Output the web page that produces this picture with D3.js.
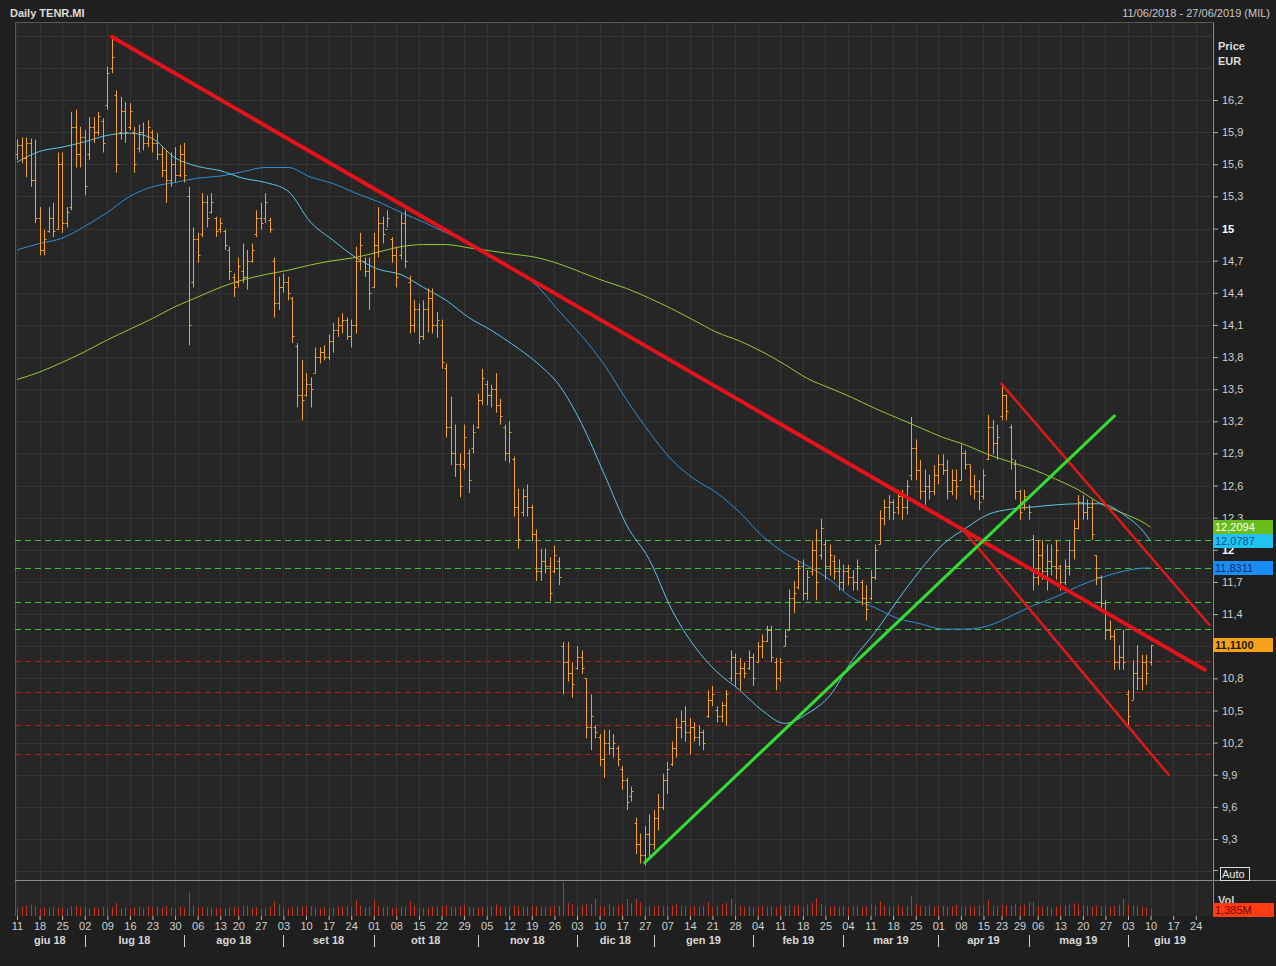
<!DOCTYPE html>
<html><head><meta charset="utf-8">
<script src="https://cdn.jsdelivr.net/npm/d3@7"></script>
<style>
html,body{margin:0;padding:0;background:#1f1f1f;}
svg{display:block;font-family:"Liberation Sans",Arial,sans-serif;}
</style></head>
<body><svg id="c" width="1276" height="966"></svg>
<script>
// ---------------- DATA ----------------
const title = "Daily TENR.MI";
const rangeText = "11/06/2018 - 27/06/2019 (MIL)";
const startDate = "2018-06-11", endDate = "2019-06-27";
const holidays = ["2018-08-15","2018-12-24","2018-12-25","2018-12-26","2018-12-31","2019-01-01","2019-04-19","2019-04-22","2019-05-01"];
const monthNames = ["gen","feb","mar","apr","mag","giu","lug","ago","set","ott","nov","dic"];
const weekTicks = ["2018-06-11","2018-06-18","2018-06-25","2018-07-02","2018-07-09","2018-07-16","2018-07-23","2018-07-30",
 "2018-08-06","2018-08-13","2018-08-20","2018-08-27","2018-09-03","2018-09-10","2018-09-17","2018-09-24","2018-10-01",
 "2018-10-08","2018-10-15","2018-10-22","2018-10-29","2018-11-05","2018-11-12","2018-11-19","2018-11-26","2018-12-03",
 "2018-12-10","2018-12-17","2018-12-27","2019-01-07","2019-01-14","2019-01-21","2019-01-28","2019-02-04","2019-02-11",
 "2019-02-18","2019-02-25","2019-03-04","2019-03-11","2019-03-18","2019-03-25","2019-04-01","2019-04-08","2019-04-15",
 "2019-04-23","2019-04-29","2019-05-06","2019-05-13","2019-05-20","2019-05-27","2019-06-03","2019-06-10","2019-06-17","2019-06-24"];
const priceTicks = [16.2,15.9,15.6,15.3,15,14.7,14.4,14.1,13.8,13.5,13.2,12.9,12.6,12.3,12,11.7,11.4,11.1,10.8,10.5,10.2,9.9,9.6,9.3];
const hiddenTickLabels = [11.1];

const high = [
15.83,15.85,15.85,15.84,15.83,15.20,14.99,15.20,15.24,15.71,
15.71,15.20,16.09,16.11,15.95,15.92,16.04,16.04,16.09,16.03,
16.51,16.79,16.29,16.23,16.18,16.17,15.95,15.97,15.99,16.01,
15.92,15.89,15.76,15.73,15.71,15.76,15.78,15.80,15.39,15.01,
14.96,15.33,15.31,15.33,15.11,15.10,14.99,14.83,14.58,14.73,
14.86,14.80,14.86,15.17,15.24,15.33,15.10,14.73,14.55,14.58,
14.55,14.36,13.93,13.77,13.65,13.61,13.89,13.89,13.91,14.01,
14.12,14.17,14.21,14.17,14.15,14.83,14.96,14.73,14.73,14.96,
15.20,15.11,15.17,14.92,14.83,15.14,15.17,14.56,14.33,14.30,
14.33,14.44,14.44,14.22,14.15,13.74,13.43,13.17,12.90,13.17,
12.94,13.17,13.46,13.69,13.58,13.54,13.65,13.41,13.17,13.20,
12.87,12.57,12.57,12.61,12.42,12.19,12.01,12.01,11.93,12.04,
11.93,11.14,11.14,10.95,11.10,11.06,10.80,10.65,10.36,10.28,
10.32,10.32,10.28,10.17,9.98,9.87,9.79,9.50,9.35,9.42,
9.53,9.57,9.72,9.91,10.02,10.21,10.43,10.50,10.54,10.43,
10.39,10.36,10.32,10.69,10.73,10.54,10.58,10.69,11.06,11.03,
10.99,10.95,11.06,11.03,11.14,11.21,11.29,11.29,10.99,10.99,
11.25,11.63,11.71,11.90,11.91,11.81,12.09,12.19,12.29,12.09,
12.05,11.95,11.91,11.86,11.86,11.81,11.91,11.72,11.67,11.81,
12.05,12.37,12.47,12.51,12.47,12.56,12.56,12.65,13.24,13.03,
12.84,12.75,12.70,12.79,12.89,12.89,12.84,12.75,12.75,12.98,
12.93,12.79,12.70,12.65,12.75,13.26,13.21,13.17,13.55,13.45,
13.17,12.84,12.56,12.56,12.42,12.14,12.09,12.09,12.05,12.05,
12.09,11.86,11.91,12.09,12.28,12.51,12.51,12.47,12.47,11.95,
11.76,11.53,11.34,11.25,11.11,11.25,10.69,10.97,11.11,11.02,
11.02,11.11];
const low = [
15.64,15.61,15.48,15.39,15.05,14.75,14.75,14.96,14.92,14.99,
14.96,15.01,15.17,15.57,15.57,15.31,15.64,15.80,15.87,15.71,
16.11,16.45,15.52,15.83,15.80,15.92,15.52,15.71,15.73,15.76,
15.71,15.64,15.48,15.24,15.39,15.43,15.48,15.43,13.91,14.45,
14.68,14.92,15.01,15.14,14.92,14.96,14.80,14.52,14.36,14.45,
14.49,14.43,14.68,14.92,14.99,15.05,14.96,14.17,14.24,14.40,
14.33,13.93,13.33,13.21,13.43,13.33,13.65,13.74,13.77,13.77,
13.84,13.99,14.02,13.96,13.89,14.02,14.61,14.55,14.24,14.45,
14.73,14.86,15.01,14.68,14.45,14.71,14.63,14.02,14.03,13.92,
13.96,14.03,14.02,13.98,13.69,13.05,12.79,12.68,12.49,12.75,
12.53,12.90,13.13,13.35,13.35,13.33,13.28,13.17,12.83,12.81,
12.31,12.01,12.31,12.31,12.08,11.71,11.71,11.78,11.52,11.78,
11.67,10.65,10.77,10.62,10.88,10.84,10.24,10.13,10.24,9.98,
9.87,10.09,10.06,9.98,9.76,9.57,9.65,9.16,9.07,9.05,
9.12,9.20,9.38,9.57,9.72,9.98,10.06,10.24,10.21,10.09,
10.21,10.17,10.13,10.43,10.54,10.39,10.39,10.36,10.77,10.73,
10.69,10.80,10.88,10.73,10.95,10.99,11.14,10.95,10.69,10.77,
11.10,11.25,11.41,11.63,11.53,11.53,11.76,11.53,11.91,11.72,
11.76,11.72,11.62,11.62,11.67,11.62,11.62,11.48,11.34,11.53,
11.72,12.05,12.23,12.28,12.28,12.33,12.28,12.33,12.65,12.65,
12.47,12.42,12.47,12.51,12.61,12.70,12.47,12.51,12.47,12.65,
12.75,12.51,12.47,12.37,12.47,12.84,12.89,12.84,13.21,13.21,
12.75,12.47,12.28,12.37,12.28,11.62,11.67,11.72,11.62,11.76,
11.72,11.62,11.67,11.76,11.91,12.19,12.28,12.28,12.09,11.67,
11.44,11.16,11.16,10.88,10.88,10.88,10.36,10.60,10.69,10.69,
10.74,10.92];
const open = [
15.70,15.78,15.66,15.80,15.45,15.10,14.80,14.98,15.10,15.00,
15.60,15.05,15.20,15.95,15.70,15.85,15.70,15.95,15.90,16.00,
16.15,16.50,16.25,15.90,16.10,15.95,15.90,15.75,15.90,15.80,
15.90,15.80,15.70,15.55,15.45,15.60,15.50,15.70,15.30,14.50,
14.90,14.95,15.25,15.15,15.10,15.00,14.98,14.80,14.55,14.50,
14.60,14.55,14.70,14.95,15.10,15.10,15.08,14.70,14.30,14.45,
14.50,14.35,13.90,13.45,13.45,13.55,13.65,13.80,13.85,13.80,
13.95,14.05,14.10,14.15,14.00,14.10,14.70,14.70,14.60,14.45,
14.85,15.05,15.00,14.90,14.75,14.75,15.05,14.50,14.10,14.25,
14.00,14.25,14.35,14.10,14.10,13.70,13.15,12.90,12.80,12.80,
12.90,12.95,13.15,13.40,13.55,13.45,13.50,13.35,13.15,12.90,
12.85,12.40,12.35,12.50,12.40,12.15,11.80,11.90,11.85,11.80,
11.90,11.10,10.95,10.85,10.90,11.00,10.80,10.35,10.35,10.25,
10.05,10.20,10.15,10.15,9.95,9.85,9.70,9.45,9.25,9.15,
9.35,9.25,9.50,9.60,9.85,10.00,10.15,10.35,10.40,10.30,
10.35,10.25,10.30,10.45,10.60,10.50,10.45,10.55,10.80,11.00,
10.85,10.90,10.90,11.00,10.95,11.10,11.15,11.25,10.95,10.80,
11.10,11.25,11.55,11.65,11.85,11.60,11.80,12.00,11.95,12.05,
11.85,11.90,11.80,11.70,11.80,11.75,11.70,11.70,11.55,11.55,
11.75,12.05,12.30,12.40,12.45,12.40,12.50,12.40,12.70,12.95,
12.75,12.55,12.60,12.55,12.70,12.80,12.75,12.55,12.65,12.65,
12.90,12.80,12.60,12.55,12.50,12.85,13.15,13.00,13.25,13.45,
13.15,12.80,12.55,12.40,12.40,12.10,11.75,11.95,11.80,11.90,
11.85,11.85,11.70,11.85,12.00,12.20,12.45,12.35,12.40,11.95,
11.75,11.50,11.25,11.20,10.95,11.00,10.65,10.60,10.85,10.80,
10.95,10.95];
const close = [
15.78,15.66,15.80,15.45,15.10,14.80,14.90,15.10,14.98,15.60,
15.05,15.15,15.95,15.70,15.85,15.40,15.95,15.90,16.05,15.80,
16.45,16.60,15.60,16.10,15.90,16.10,15.60,15.90,15.80,15.95,
15.80,15.70,15.55,15.45,15.60,15.50,15.70,15.50,14.10,14.90,
14.75,15.25,15.10,15.25,14.98,15.05,14.85,14.60,14.45,14.65,
14.55,14.70,14.80,15.10,15.05,15.25,15.00,14.30,14.45,14.50,
14.40,14.00,13.45,13.40,13.55,13.50,13.80,13.85,13.80,13.95,
14.05,14.10,14.15,14.00,14.10,14.70,14.85,14.60,14.40,14.85,
15.05,14.95,15.10,14.75,14.55,15.05,14.70,14.10,14.25,14.00,
14.25,14.35,14.10,14.15,13.75,13.15,12.90,12.80,12.60,13.05,
12.65,13.10,13.40,13.60,13.45,13.50,13.35,13.25,12.90,13.10,
12.40,12.10,12.50,12.40,12.15,11.80,11.90,11.85,11.60,11.95,
11.75,10.95,10.85,10.75,11.00,10.90,10.35,10.45,10.30,10.05,
10.20,10.15,10.20,10.05,9.85,9.65,9.75,9.25,9.15,9.35,
9.25,9.50,9.60,9.85,9.95,10.15,10.35,10.40,10.30,10.35,
10.25,10.30,10.20,10.60,10.65,10.45,10.55,10.65,11.00,10.85,
10.90,10.85,11.00,10.80,11.10,11.15,11.25,11.00,10.80,10.95,
11.20,11.55,11.60,11.85,11.60,11.75,12.00,11.70,12.20,11.85,
11.95,11.80,11.70,11.80,11.75,11.70,11.85,11.55,11.45,11.75,
12.00,12.30,12.40,12.45,12.35,12.50,12.40,12.60,12.95,12.75,
12.55,12.60,12.55,12.70,12.80,12.75,12.55,12.65,12.60,12.90,
12.80,12.60,12.55,12.45,12.70,13.15,13.00,13.05,13.45,13.30,
12.85,12.55,12.35,12.50,12.35,11.75,11.95,11.80,11.90,11.85,
12.00,11.70,11.85,12.00,12.20,12.45,12.35,12.40,12.15,11.75,
11.50,11.25,11.20,10.95,11.00,10.95,10.45,10.85,10.80,10.95,
10.85,11.11];
// volume in millions of shares
const volume = [
1.6,1.8,2.0,2.2,1.9,1.5,1.7,1.6,1.8,1.6,
1.7,1.5,1.9,2.0,1.6,1.8,1.5,1.7,1.6,1.8,
1.6,1.7,2.5,1.4,1.6,1.5,1.7,1.8,1.6,1.9,
1.7,1.8,1.6,1.9,1.7,1.5,1.8,1.6,4.6,2.1,
1.7,1.8,1.6,1.7,1.5,1.6,1.4,1.7,1.8,1.6,
1.9,2.0,1.6,1.7,1.5,1.6,1.8,2.9,2.2,1.6,
1.5,1.8,1.9,1.8,2.0,1.9,1.7,1.5,1.8,1.6,
1.7,1.9,1.8,1.9,1.7,3.1,2.0,1.7,1.8,3.1,
2.0,1.7,1.8,1.6,1.7,1.8,1.9,2.9,2.1,1.7,
1.6,1.7,1.8,1.7,1.9,2.0,1.8,1.7,1.9,2.2,
1.8,1.7,1.6,1.7,1.8,1.9,2.2,1.8,1.7,1.9,
2.0,1.9,1.7,1.8,2.0,1.9,1.8,1.7,1.8,1.9,
2.0,6.6,2.5,2.2,1.8,2.1,2.3,2.4,3.3,1.9,
1.8,2.3,1.9,2.1,2.4,3.3,2.5,3.3,2.6,1.9,
2.0,1.8,2.0,1.9,2.0,2.1,2.3,2.0,1.9,1.8,
1.9,1.8,2.0,2.7,1.7,1.9,2.2,2.5,3.3,2.3,
2.0,1.8,1.9,1.7,1.8,2.0,1.8,1.9,1.7,2.1,
1.9,2.2,2.0,2.1,1.7,2.2,2.5,3.5,2.3,1.9,
1.8,1.9,1.8,2.0,1.7,1.9,2.0,1.8,1.9,2.3,
2.1,2.9,2.0,1.8,1.9,2.1,1.8,2.0,3.9,2.2,
2.0,1.9,2.1,1.8,1.9,2.0,1.8,1.9,2.1,1.8,
1.9,2.0,1.8,2.1,2.2,3.1,2.0,1.9,2.2,2.0,
2.1,2.3,2.0,2.2,2.6,2.7,1.9,1.8,1.9,1.7,
1.8,2.0,2.1,2.3,2.5,2.2,2.1,2.0,1.8,2.0,
1.9,2.1,1.8,1.9,2.2,3.3,2.3,2.1,2.0,1.8,
1.6,1.385];

// moving averages, sampled at these trading-day numbers
const maAt = [0,5,10,15,20,25,30,35,40,45,50,55,60,65,70,75,80,85,90,95,100,105,110,115,120,125,
 130,135,140,145,150,155,160,165,170,175,180,185,190,195,200,205,210,215,220,225,230,235,240,245,250,251];
const ma50 = [15.62,15.72,15.76,15.81,15.87,15.89,15.84,15.66,15.58,15.54,15.47,15.43,15.35,15.06,14.89,14.73,14.62,14.57,14.45,14.33,
 14.17,14.05,13.91,13.75,13.54,13.18,12.71,12.23,11.91,11.44,11.10,10.86,10.69,10.50,10.38,10.47,10.64,10.97,11.23,11.53,
 11.81,12.05,12.20,12.33,12.38,12.40,12.42,12.43,12.43,12.33,12.14,12.08];
const ma100 = [14.80,14.86,14.91,15.02,15.15,15.30,15.39,15.43,15.47,15.49,15.53,15.57,15.57,15.48,15.42,15.33,15.25,15.15,15.06,14.96,
 14.86,14.74,14.62,14.47,14.23,14.00,13.73,13.40,13.10,12.84,12.66,12.53,12.35,12.13,11.97,11.85,11.72,11.55,11.46,11.36,
 11.31,11.26,11.26,11.29,11.38,11.48,11.56,11.66,11.74,11.80,11.83,11.83];
const ma200 = [13.59,13.66,13.75,13.85,13.96,14.06,14.16,14.27,14.36,14.45,14.52,14.57,14.61,14.66,14.70,14.73,14.78,14.83,14.85,14.85,
 14.82,14.79,14.76,14.73,14.67,14.59,14.51,14.44,14.35,14.25,14.14,14.03,13.95,13.85,13.73,13.60,13.51,13.42,13.32,13.23,
 13.14,13.05,12.98,12.89,12.82,12.75,12.66,12.56,12.43,12.34,12.24,12.21];
const lastValues = {ma200: 12.2094, ma50: 12.0787, ma100: 11.8311, close: 11.1100, volume: 1.385};

// drawn studies
const resistanceLine = [["2018-07-10",16.79],["2019-06-26",10.88]];
const channelLow = [["2019-04-08",12.21],["2019-06-14",9.90]];
const channelHigh = [["2019-04-23",13.55],["2019-06-27",11.30]];
const supportLine = [["2018-12-27",9.08],["2019-05-29",13.25]];
const greenLevels = [12.09,11.83,11.51,11.26];
const redLevels = [10.96,10.67,10.36,10.09];

// ---------------- LAYOUT ----------------
const W = 1276, H = 966;
const L = 15, R = 1212, T = 22, PB = 880, VB = 916;
const svg = d3.select("#c");

const parse = d3.utcParse("%Y-%m-%d"), fmt = d3.utcFormat("%Y-%m-%d");
const hol = new Set(holidays);
const days = [];
for (let d = parse(startDate); d <= parse(endDate); d = d3.utcDay.offset(d, 1)) {
  const wd = d.getUTCDay();
  if (wd === 0 || wd === 6 || hol.has(fmt(d))) continue;
  days.push(fmt(d));
}
const idx = new Map(days.map((d, i) => [d, i]));

const x = d3.scaleLinear().domain([-0.44, days.length - 1 + 0.6]).range([L, R]);
const y = d3.scaleLinear().domain([9.3, 16.2]).range([839, 100]);
const yv = d3.scaleLinear().domain([0, 7]).range([VB, PB]);
const commaFmt = v => hiddenTickLabels.includes(v) ? "" :
  (Math.abs(v - Math.round(v)) < 1e-9 ? String(Math.round(v)) : d3.format(".1f")(v).replace(".", ","));

svg.append("rect").attr("width", W).attr("height", H).attr("fill", "#1f1f1f");
svg.append("rect").attr("x", L).attr("y", T).attr("width", R - L).attr("height", VB - T).attr("fill", "#262626");

const defs = svg.append("defs");
defs.append("clipPath").attr("id", "clipP").append("rect").attr("x", L).attr("y", T).attr("width", R - L).attr("height", PB - T);

// grid
const grid = svg.append("g").attr("stroke", "#343434").attr("stroke-width", 1);
const gridVals = d3.range(9.0, 16.95, 0.3).map(v => +v.toFixed(1));
grid.selectAll("line.h").data(gridVals).join("line")
  .attr("x1", L).attr("x2", R).attr("y1", d => Math.round(y(d)) + 0.5).attr("y2", d => Math.round(y(d)) + 0.5);
grid.selectAll("line.v").data(weekTicks).join("line")
  .attr("x1", d => Math.round(x(idx.get(d))) + 0.5).attr("x2", d => Math.round(x(idx.get(d))) + 0.5)
  .attr("y1", T).attr("y2", VB);

// frame
svg.append("path").attr("d", `M${L+0.5},${VB}V${T+0.5}H${R}`).attr("fill", "none").attr("stroke", "#5a5a5a");
svg.append("line").attr("x1", L).attr("x2", W).attr("y1", PB + 0.5).attr("y2", PB + 0.5).attr("stroke", "#8a8a8a");
svg.append("line").attr("x1", R + 1.5).attr("x2", R + 1.5).attr("y1", T).attr("y2", VB + 1).attr("stroke", "#8a8a8a");

const plot = svg.append("g").attr("clip-path", "url(#clipP)");

// horizontal levels
plot.append("g").selectAll("line").data(greenLevels).join("line")
  .attr("x1", L).attr("x2", R).attr("y1", d => Math.round(y(d)) + 0.5).attr("y2", d => Math.round(y(d)) + 0.5)
  .attr("stroke", "#3cc43a").attr("stroke-dasharray", "6,4").attr("stroke-width", 1);
plot.append("g").selectAll("line").data(redLevels).join("line")
  .attr("x1", L).attr("x2", R).attr("y1", d => Math.round(y(d)) + 0.5).attr("y2", d => Math.round(y(d)) + 0.5)
  .attr("stroke", "#b01e1e").attr("stroke-dasharray", "6,4").attr("stroke-width", 1);

// moving averages
const maLine = d3.line().x((d, i) => x(maAt[i])).y(d => y(d)).curve(d3.curveMonotoneX);
plot.append("path").attr("d", maLine(ma200)).attr("fill", "none").attr("stroke", "#98c832").attr("stroke-width", 1);
plot.append("path").attr("d", maLine(ma100)).attr("fill", "none").attr("stroke", "#2f8fd8").attr("stroke-width", 1);
plot.append("path").attr("d", maLine(ma50)).attr("fill", "none").attr("stroke", "#5cc4ea").attr("stroke-width", 1);

// OHLC bars
const barCol = "#f0a236";
const ob = plot.append("g").attr("stroke", barCol).attr("stroke-width", 1);
const I = d3.range(high.length);
const bx = i => Math.round(x(i)) + 0.5;
ob.selectAll("line.hl").data(I).join("line")
  .attr("x1", bx).attr("x2", bx).attr("y1", i => y(high[i])).attr("y2", i => y(low[i]));
ob.selectAll("line.o").data(I).join("line")
  .attr("x1", i => bx(i) - 2).attr("x2", i => bx(i)).attr("y1", i => Math.round(y(open[i])) + 0.5).attr("y2", i => Math.round(y(open[i])) + 0.5);
ob.selectAll("line.c").data(I).join("line")
  .attr("x1", i => bx(i)).attr("x2", i => bx(i) + 2).attr("y1", i => Math.round(y(close[i])) + 0.5).attr("y2", i => Math.round(y(close[i])) + 0.5);

// trend lines
const seg = (p, col, w) => plot.append("line")
  .attr("x1", x(idx.get(p[0][0]))).attr("y1", y(p[0][1]))
  .attr("x2", x(idx.get(p[1][0]))).attr("y2", y(p[1][1]))
  .attr("stroke", col).attr("stroke-width", w).attr("stroke-linecap", "round");
seg(resistanceLine, "#e3121b", 4);
seg(channelLow, "#dc1a1a", 2.5);
seg(channelHigh, "#dc1a1a", 2.5);
seg(supportLine, "#33dd33", 3);

// volume
svg.append("g").attr("stroke", "#c4341c").attr("stroke-width", 1)
  .selectAll("line").data(I).join("line")
  .attr("x1", bx).attr("x2", bx).attr("y1", VB).attr("y2", i => yv(volume[i]));

// price axis
const ax = svg.append("g").attr("transform", `translate(${R + 1},0)`)
  .call(d3.axisRight(y).tickValues(priceTicks).tickSize(5).tickPadding(4).tickFormat(commaFmt));
ax.select(".domain").remove();
ax.selectAll("line").attr("stroke", "#aaa");
ax.selectAll("text").style("font-size", "11px")
  .style("font-weight", d => Number.isInteger(d) ? "bold" : "normal")
  .attr("fill", d => Number.isInteger(d) ? "#ffffff" : "#cfcfcf");

// date axis
const dx = svg.append("g").attr("transform", `translate(0,${VB})`)
  .call(d3.axisBottom(x).tickValues(weekTicks.map(d => idx.get(d))).tickSize(4).tickPadding(2)
    .tickFormat(i => days[i].slice(8, 10)));
dx.select(".domain").remove();
dx.selectAll("line").attr("stroke", "#bbb");
dx.selectAll("text").attr("fill", "#cfcfcf").style("font-size", "11px");

// months
const months = [];
days.forEach((d, i) => {
  const k = d.slice(0, 7);
  if (!months.length || months[months.length - 1].k !== k) months.push({k, i});
});
months.forEach((m, j) => {
  const a = j === 0 ? L : x(m.i);
  const b = j < months.length - 1 ? x(months[j + 1].i) : R;
  const mi = +m.k.slice(5, 7) - 1;
  svg.append("text").attr("x", (Math.max(a, L) + Math.min(b, R)) / 2).attr("y", 944)
    .attr("text-anchor", "middle").attr("fill", "#d8d8d8").style("font-size", "11px").style("font-weight", "bold")
    .text(monthNames[mi] + " " + m.k.slice(2, 4));
  if (j > 0) svg.append("line").attr("x1", Math.round(x(m.i)) + 0.5).attr("x2", Math.round(x(m.i)) + 0.5)
    .attr("y1", 935).attr("y2", 947).attr("stroke", "#cfcfcf");
});

// header texts
svg.append("text").attr("x", 10).attr("y", 17).attr("fill", "#dcdcdc").style("font-size", "11px").style("font-weight", "bold").text(title);
svg.append("text").attr("x", 1270).attr("y", 17).attr("text-anchor", "end").attr("fill", "#c8c8c8").style("font-size", "11px").text(rangeText);
svg.append("text").attr("x", 1218).attr("y", 50).attr("fill", "#dcdcdc").style("font-size", "11px").style("font-weight", "bold").text("Price");
svg.append("text").attr("x", 1218).attr("y", 65).attr("fill", "#dcdcdc").style("font-size", "11px").style("font-weight", "bold").text("EUR");

// value boxes
const numFmt = (v, n) => d3.format(`.${n}f`)(v).replace(".", ",");
const box = (v, yy, bg, fg, txt, bold) => {
  const g = svg.append("g");
  g.append("rect").attr("x", R + 1).attr("y", Math.round(yy) - 7).attr("width", 60).attr("height", 14).attr("fill", bg);
  g.append("text").attr("x", R + 3).attr("y", Math.round(yy) + 4).attr("fill", fg).style("font-size", "11px")
    .style("font-weight", bold ? "bold" : "normal").text(txt);
};
box(lastValues.ma200, y(lastValues.ma200), "#68bd1c", "#ffffff", numFmt(lastValues.ma200, 4), false);
box(lastValues.ma50, y(lastValues.ma50), "#1fc4ee", "#1646a0", numFmt(lastValues.ma50, 4), false);
box(lastValues.ma100, y(lastValues.ma100), "#1a8cf5", "#0b2a66", numFmt(lastValues.ma100, 4), false);
box(lastValues.close, y(lastValues.close), "#f7a11a", "#1a1a1a", numFmt(lastValues.close, 4), true);

// Auto
svg.append("line").attr("x1", R + 1).attr("x2", R + 6).attr("y1", 870.5).attr("y2", 870.5).attr("stroke", "#aaa");
svg.append("rect").attr("x", 1220.5).attr("y", 867.5).attr("width", 29).attr("height", 13).attr("fill", "none").attr("stroke", "#dcdcdc");
svg.append("text").attr("x", 1222).attr("y", 878).attr("fill", "#e8e8e8").style("font-size", "11px").text("Auto");

// volume label
svg.append("text").attr("x", 1218).attr("y", 904).attr("fill", "#cfcfcf").style("font-size", "11px").style("font-weight", "bold").text("Vol");
const vy = yv(lastValues.volume);
svg.append("rect").attr("x", R + 1).attr("y", Math.round(vy) - 6).attr("width", 61).attr("height", 14).attr("fill", "#ff3b12");
svg.append("text").attr("x", R + 3).attr("y", Math.round(vy) + 5).attr("fill", "#7a0000").style("font-size", "11px")
  .text(numFmt(lastValues.volume, 3) + "M");
</script>
</body></html>
